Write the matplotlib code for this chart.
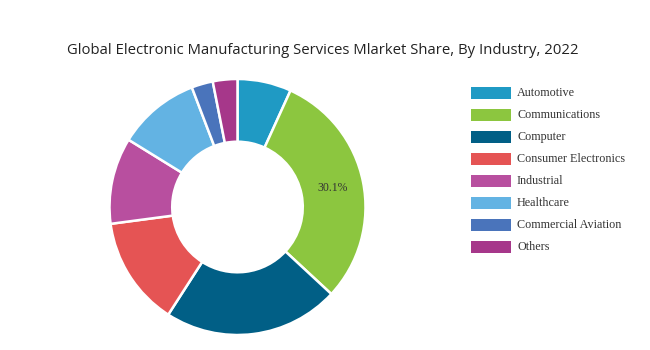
import matplotlib
matplotlib.use("Agg")
import matplotlib.pyplot as plt
from matplotlib.patches import Rectangle
import numpy as np

industries = ["Automotive", "Communications", "Computer", "Consumer Electronics",
              "Industrial", "Healthcare", "Commercial Aviation", "Others"]
shares = [6.8, 30.1, 22.2, 13.8, 10.9, 10.4, 2.7, 3.1]
colors = ["#1f9ac4", "#8cc63f", "#015f86", "#e55454",
          "#b84f9f", "#63b3e3", "#4a74bb", "#a6378a"]
labelled = "Communications"

W, H = 650, 350
fig = plt.figure(figsize=(6.5, 3.5), dpi=100)
fig.patch.set_facecolor("white")

# donut centered at (237, 207) px, radius 128 px
cx, cy, r = 237.5, H - 207, 128
ax = fig.add_axes([(cx - r) / W, (cy - r) / H, 2 * r / W, 2 * r / H])
wedges, _ = ax.pie(shares, colors=colors, startangle=90, counterclock=False,
                   radius=1.0, wedgeprops=dict(width=0.49, edgecolor="white", linewidth=1.8))
ax.set_xlim(-1, 1); ax.set_ylim(-1, 1)
ax.set_aspect("equal")

i = industries.index(labelled)
w = wedges[i]
mid = np.deg2rad((w.theta1 + w.theta2) / 2)
ax.text(0.755 * np.cos(mid), 0.755 * np.sin(mid), f"{shares[i]:.1f}%",
        ha="center", va="center", fontsize=8.5, family="Liberation Serif", color="#333333")

fig.text(323 / W, 1 - 50 / H, "Global Electronic Manufacturing Services Mlarket Share, By Industry, 2022",
         ha="center", va="center", fontsize=10.7, family="Open Sans", color="#222222")

# legend, drawn by hand
for k, (name, c) in enumerate(zip(industries, colors)):
    yc = 93 + 22 * k
    fig.patches.append(Rectangle((471 / W, 1 - (yc + 6) / H), 40 / W, 12 / H,
                                 transform=fig.transFigure, facecolor=c, edgecolor="none"))
    fig.text(517 / W, 1 - yc / H, name, ha="left", va="center", fontsize=8.7,
             family="Liberation Serif", color="#333333")

fig.savefig("out.png", dpi=100)
